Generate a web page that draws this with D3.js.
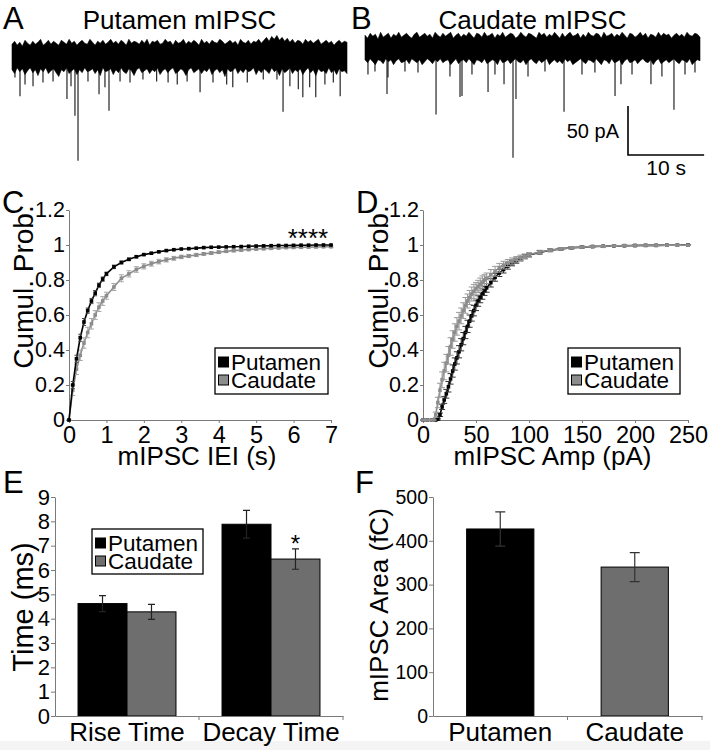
<!DOCTYPE html>
<meta charset="utf-8">
<script src="https://d3js.org/d3.v7.min.js"></script>
<style>
  body { margin: 0; background: #fff; }
  text { font-family: "Liberation Sans", Arial, sans-serif; }
</style>
<div id="fig"></div>
<script>

  // ---- data ----

  // A / B: example traces (s, pA). band edges at even steps, events = downward spikes
  var traceDur = 44;
  var putTop = [11,14,10,13,9,15,12,10,14,11,13,16,10,12,15,11,14,12,10,15,13,11,16,12,14,10,13,15,12,11,
    16,13,10,14,12,15,11,13,16,12,14,11,15,13,10,16,12,14,13,11,15,12,16,10,14,13,15,11,12,16,
    13,14,10,15,12,13,16,11,14,12,15,13,10,16,12,14,11,15,13,12,16,14,11,13,15,12,14,10,16,13,
    12,15,11,14,13,16,12,15,18,14,19,16,20,15,18,14,17,13,16,12,15,14,11,16,13,15,12,14,16,11,
    13,15,12,14,10,13,15,12,14,13];
  var putBottom = [-15,-19,-13,-17,-14,-20,-16,-13,-18,-15,-21,-14,-17,-13,-19,-16,-14,-18,-22,-15,-17,-13,-19,-16,-14,-20,-15,-18,-13,-17,
    -16,-14,-19,-15,-21,-13,-17,-16,-14,-20,-15,-18,-13,-17,-19,-14,-16,-21,-15,-13,-18,-16,-14,-19,-15,-17,-13,-20,-16,-14,
    -18,-15,-13,-19,-17,-14,-16,-21,-15,-13,-18,-16,-14,-19,-15,-17,-13,-20,-16,-14,-18,-15,-22,-14,-17,-16,-13,-19,-15,-18,
    -14,-17,-16,-13,-20,-15,-18,-14,-16,-19,-13,-17,-15,-21,-14,-18,-16,-13,-19,-15,-17,-14,-20,-16,-13,-18,-15,-21,-14,-17,
    -16,-19,-13,-18,-15,-20,-14,-17,-16,-19];
  var putEvT = [0.39,1.05,1.71,2.76,4.07,5.39,7.22,7.75,8.27,8.67,9.98,11.43,12.21,12.74,14.19,15.5,17.2,19.0,20.5,21.7,23.0,24.7,26.4,28.2,29.0,30.9,33.0,34.8,35.6,36.5,37.6,38.2,39.1,39.9,41.1,42.2,43.1];
  var putEvA = [-23,-42,-30,-32,-28,-27,-45,-32,-62,-108,-27,-40,-33,-57,-27,-28,-25,-27,-28,-30,-27,-38,-28,-30,-33,-28,-25,-25,-58,-32,-35,-43,-33,-43,-30,-28,-42];

  var cauTop = [12,9,14,11,13,8,15,10,12,14,9,13,11,15,10,12,14,11,9,13,15,10,12,14,11,13,9,15,12,10,
    14,11,13,15,9,12,14,10,13,11,15,12,9,14,13,10,15,11,12,14,9,13,11,15,10,12,14,13,9,11,
    15,12,10,14,13,11,9,15,12,14,10,13,11,15,12,9,14,10,13,15,11,12,14,9,13,10,15,12,11,14,
    13,9,15,11,12,14,10,13,11,15,12,9,14,13,10,12,15,11,14,9,13,12,10,15,11,14,12,13,9,12,
    14,11,13,10,15,12,11,14,13,10];
  var cauBottom = [-13,-16,-12,-15,-18,-13,-14,-17,-12,-15,-13,-18,-14,-12,-16,-15,-13,-17,-12,-14,-16,-13,-18,-15,-12,-14,-17,-13,-15,-12,
    -16,-14,-13,-18,-15,-12,-17,-14,-13,-16,-12,-15,-18,-13,-14,-16,-12,-17,-15,-13,-14,-18,-12,-16,-15,-13,-17,-14,-12,-15,
    -16,-13,-18,-14,-12,-15,-17,-13,-16,-14,-12,-18,-15,-13,-16,-14,-17,-12,-15,-13,-18,-16,-14,-12,-15,-17,-13,-14,-16,-12,
    -15,-18,-13,-14,-17,-12,-16,-15,-13,-18,-14,-12,-16,-15,-13,-17,-14,-12,-15,-16,-13,-18,-14,-12,-17,-15,-13,-16,-14,-12,
    -15,-17,-13,-14,-16,-12,-18,-15,-13,-14];
  var cauEvT = [0.39,1.31,2.89,3.02,5.25,6.96,9.33,11.16,12.48,12.74,14.05,16.16,17.07,18.26,19.44,19.83,21.41,23.64,26.14,28.5,30.2,32.84,33.62,35.07,37.56,39.0,40.58,42.03,43.34];
  var cauEvA = [-28,-25,-48,-31,-25,-26,-69,-30,-51,-50,-28,-46,-28,-38,-113,-53,-30,-25,-66,-28,-26,-50,-38,-28,-38,-30,-64,-28,-26];

  // C: cumulative probability of inter-event interval (s)
  var ieiX = [0,0.1,0.2,0.3,0.4,0.5,0.6,0.7,0.8,0.9,1.0,1.2,1.4,1.6,1.8,2.0,2.2,2.4,2.6,2.8,3.0,
    3.2,3.4,3.6,3.8,4.0,4.2,4.4,4.6,4.8,5.0,5.2,5.4,5.6,5.8,6.0,6.2,6.4,6.6,6.8,7.0];
  var ieiPut = [0,0.2,0.35,0.47,0.56,0.625,0.68,0.725,0.77,0.805,0.835,0.875,0.9,0.918,0.933,0.945,0.953,0.961,0.968,0.973,0.977,
    0.979,0.982,0.985,0.987,0.988,0.989,0.99,0.991,0.993,0.994,0.995,0.996,0.997,0.997,0.998,0.999,0.999,1.0,1.0,1.0];
  var ieiPutSem = [0,0.02,0.02,0.02,0.02,0.015,0.015,0.015,0.012,0.012,0.01,0.01,0.008,0.007,0.006,0.005,0.005,0.004,0.004,0.004,0.003,
    0.003,0.003,0.003,0.003,0.003,0.003,0.003,0.003,0.003,0.003,0.003,0.003,0.003,0.003,0.003,0.003,0.003,0.003,0.003,0.003];
  var ieiCau = [0,0.17,0.29,0.37,0.44,0.5,0.55,0.6,0.645,0.68,0.71,0.76,0.81,0.835,0.86,0.878,0.893,0.905,0.915,0.924,0.932,
    0.937,0.943,0.949,0.954,0.959,0.964,0.968,0.971,0.974,0.977,0.979,0.981,0.983,0.985,0.986,0.987,0.988,0.989,0.99,0.99];
  var ieiCauSem = [0,0.03,0.03,0.03,0.03,0.03,0.03,0.025,0.025,0.025,0.02,0.02,0.02,0.018,0.016,0.015,0.014,0.013,0.012,0.011,0.01,
    0.009,0.009,0.008,0.008,0.008,0.007,0.007,0.007,0.006,0.006,0.006,0.006,0.005,0.005,0.005,0.005,0.005,0.005,0.005,0.005];

  // D: cumulative probability of amplitude (pA)
  var ampX = [0,4,8,10,12,14,16,18,20,22,24,26,28,30,32,34,36,38,40,42,44,46,48,50,52,54,56,58,60,
    64,68,72,76,80,84,88,92,96,100,110,120,130,140,150,160,170,180,190,200,210,220,230,240,250];
  var ampPut = [0,0,0,0,0,0.005,0.03,0.075,0.115,0.15,0.19,0.235,0.28,0.32,0.355,0.39,0.43,0.465,0.5,0.535,0.565,0.595,0.625,0.655,0.68,0.7,0.72,0.737,0.755,
    0.785,0.815,0.84,0.86,0.88,0.897,0.91,0.922,0.933,0.943,0.958,0.97,0.978,0.984,0.988,0.991,0.993,0.995,0.996,0.997,0.998,0.998,0.999,0.999,1.0];
  var ampPutSem = [0,0,0,0,0,0.005,0.01,0.015,0.02,0.025,0.03,0.03,0.035,0.035,0.035,0.035,0.035,0.035,0.035,0.035,0.035,0.03,0.03,0.03,0.03,0.03,0.03,0.025,0.025,
    0.025,0.022,0.02,0.02,0.018,0.016,0.014,0.013,0.012,0.011,0.01,0.008,0.007,0.006,0.005,0.004,0.004,0.003,0.003,0.003,0.002,0.002,0.002,0.002,0.002];
  var ampCau = [0,0,0,0,0.03,0.1,0.17,0.23,0.28,0.325,0.37,0.42,0.46,0.5,0.535,0.565,0.595,0.625,0.655,0.68,0.7,0.72,0.735,0.75,0.763,0.776,0.788,0.8,0.81,
    0.83,0.85,0.87,0.885,0.897,0.908,0.918,0.927,0.936,0.944,0.96,0.97,0.978,0.984,0.988,0.991,0.993,0.995,0.996,0.997,0.998,0.998,0.999,0.999,0.999];
  var ampCauSem = [0,0,0,0,0.015,0.03,0.04,0.045,0.05,0.05,0.05,0.05,0.05,0.05,0.05,0.05,0.045,0.045,0.045,0.04,0.04,0.04,0.04,0.035,0.035,0.035,0.035,0.03,0.03,
    0.03,0.028,0.025,0.022,0.02,0.018,0.016,0.015,0.013,0.012,0.01,0.008,0.007,0.006,0.005,0.004,0.004,0.003,0.003,0.003,0.002,0.002,0.002,0.002,0.002];

  // E: kinetics (ms)
  var kinGroups = ["Rise Time", "Decay Time"];
  var regions = ["Putamen", "Caudate"];
  var kinPut = [4.62, 7.88];
  var kinPutErr = [0.33, 0.57];
  var kinCau = [4.28, 6.45];
  var kinCauErr = [0.31, 0.42];

  // F: charge (fC)
  var areaMean = [427, 340];
  var areaErr = [39, 33];

  var colPut = "#000", colCau = "#8c8c8c", colBarCau = "#6e6e6e", axisCol = "#7a7a7a";

  var svg = d3.select("#fig").append("svg")
    .attr("width", 710).attr("height", 750);

  svg.append("rect").attr("x", 0).attr("y", 741).attr("width", 710).attr("height", 9).attr("fill", "#f4f4f4");

  function letter(txt, x, y) {
    svg.append("text").attr("x", x).attr("y", y).attr("font-size", 31).text(txt);
  }

  // ---------- A & B traces ----------
  function drawTrace(x0, x1, base, top, bottom, evT, evA, title) {
    var x = d3.scaleLinear().domain([0, traceDur]).range([x0, x1]);
    var y = d3.scaleLinear().domain([0, -50]).range([base, base + 49]);
    var xi = d3.scaleLinear().domain([0, top.length - 1]).range([0, traceDur]);
    var g = svg.append("g");
    g.selectAll(".ev").data(evT).enter().append("line")
      .attr("x1", function(d) { return x(d) }).attr("x2", function(d) { return x(d) })
      .attr("y1", y(-8))
      .attr("y2", function(d, i) { return y(evA[i]) })
      .attr("stroke", "#111").attr("stroke-width", 1.1);
    var area = d3.area()
      .x(function(d, i) { return x(xi(i)) })
      .y0(function(d, i) { return y(bottom[i]) })
      .y1(function(d) { return y(d) });
    g.append("path").datum(top).attr("d", area)
      .attr("fill", "#000").attr("stroke", "#000").attr("stroke-width", 0.6);
    svg.append("text").attr("x", (x0 + x1) / 2).attr("y", 29)
      .attr("text-anchor", "middle").attr("font-size", 26).text(title);
    return {x: x, y: y};
  }
  drawTrace(12, 347, 55, putTop, putBottom, putEvT, putEvA, "Putamen mIPSC");
  var tb = drawTrace(365, 700, 47, cauTop, cauBottom, cauEvT, cauEvA, "Caudate mIPSC");
  letter("A", 3, 29);
  letter("B", 351, 29);

  // scale bar 50 pA / 10 s
  var sbX = 628, sbY = 155;
  var sbW = tb.x(10) - tb.x(0), sbH = tb.y(-50) - tb.y(0);
  svg.append("path")
    .attr("d", "M" + sbX + "," + (sbY - sbH) + "V" + sbY + "H" + (sbX + sbW))
    .attr("fill", "none").attr("stroke", "#000").attr("stroke-width", 1.6);
  svg.append("text").attr("x", sbX - 9).attr("y", 138).attr("text-anchor", "end")
    .attr("font-size", 20).text("50 pA");
  svg.append("text").attr("x", sbX + sbW / 2).attr("y", 175).attr("text-anchor", "middle")
    .attr("font-size", 21).text("10 s");

  // ---------- helpers ----------
  function styleAxis(g, size) {
    g.attr("font-family", null).attr("font-size", size);
    g.select(".domain").attr("stroke", axisCol);
    g.selectAll(".tick line").attr("stroke", axisCol);
    g.selectAll(".tick text").attr("fill", "#000");
  }

  function legend(x, y, w, h, fills) {
    svg.append("rect").attr("x", x).attr("y", y).attr("width", w).attr("height", h)
      .attr("fill", "#fff").attr("stroke", "#000").attr("stroke-width", 1.3);
    regions.forEach(function(r, i) {
      var cy = y + 14 + i * 18;
      svg.append("rect").attr("x", x + 3.5).attr("y", cy - 5).attr("width", 10).attr("height", 10)
        .attr("fill", fills[i]).attr("stroke", "#000").attr("stroke-width", 1);
      svg.append("text").attr("x", x + 16).attr("y", cy + 8).attr("font-size", 22.5).text(r);
    });
  }

  function cumSeries(g, x, y, xs, ys, sem, col, errCol, cap) {
    var line = d3.line().x(function(d, i) { return x(xs[i]) }).y(function(d) { return y(d) });
    g.append("path").datum(ys).attr("d", line).attr("fill", "none")
      .attr("stroke", col).attr("stroke-width", 1.6);
    var pts = g.selectAll(null).data(ys).enter().append("g")
      .attr("transform", function(d, i) { return "translate(" + x(xs[i]) + "," + y(d) + ")" });
    pts.append("path")
      .attr("d", function(d, i) {
        var up = y(d + sem[i]) - y(d), dn = y(d - sem[i]) - y(d);
        return "M0," + up + "V" + dn + "M" + (-cap) + "," + up + "h" + (2 * cap) + "M" + (-cap) + "," + dn + "h" + (2 * cap);
      })
      .attr("stroke", errCol).attr("stroke-width", 1);
    pts.append("rect").attr("x", -1.8).attr("y", -1.8).attr("width", 3.6).attr("height", 3.6)
      .attr("fill", col);
  }

  function cumPanel(x, y, xTicks, xLabel, yLabX, series) {
    var ga = svg.append("g").attr("transform", "translate(0," + y(0) + ")")
      .call(d3.axisBottom(x).tickValues(xTicks).tickFormat(d3.format("d"))
        .tickSize(3).tickSizeOuter(0).tickPadding(3));
    styleAxis(ga, 23.5);
    var gy = svg.append("g").attr("transform", "translate(" + x(0) + ",0)")
      .call(d3.axisLeft(y).tickValues([0, 0.2, 0.4, 0.6, 0.8, 1, 1.2]).tickFormat(d3.format("~g"))
        .tickSize(3).tickSizeOuter(0).tickPadding(1));
    styleAxis(gy, 21.5);
    var g = svg.append("g");
    series.forEach(function(s) { cumSeries(g, x, y, s[0], s[1], s[2], s[3], s[4], s[5]) });
    svg.append("text").attr("x", (x.range()[0] + x.range()[1]) / 2 - 3).attr("y", 465)
      .attr("text-anchor", "middle").attr("font-size", 26).text(xLabel);
    svg.append("text").attr("transform", "translate(" + yLabX + "," + ((y(0) + y(1.2)) / 2 - 28) + ") rotate(-90)")
      .attr("text-anchor", "middle").attr("font-size", 28).text("Cumul. Prob.");
  }

  // ---------- C ----------
  var xC = d3.scaleLinear().domain([0, 7]).range([69, 331]);
  var yC = d3.scaleLinear().domain([0, 1.2]).range([420, 210]);
  cumPanel(xC, yC, [0, 1, 2, 3, 4, 5, 6, 7], "mIPSC IEI (s)", 33, [
    [ieiX, ieiCau, ieiCauSem, colCau, "#a8a8a8", 2.5],
    [ieiX, ieiPut, ieiPutSem, colPut, "#444", 2]
  ]);
  legend(215, 348, 113, 46, [colPut, colCau]);
  svg.append("text").attr("x", 308).attr("y", 247).attr("text-anchor", "middle")
    .attr("font-size", 26).text("****");
  letter("C", 2, 213);

  // ---------- D ----------
  var xD = d3.scaleLinear().domain([0, 250]).range([423, 688]);
  var yD = d3.scaleLinear().domain([0, 1.2]).range([420, 210]);
  cumPanel(xD, yD, [0, 50, 100, 150, 200, 250], "mIPSC Amp (pA)", 388, [
    [ampX, ampPut, ampPutSem, colPut, "#333", 3],
    [ampX, ampCau, ampCauSem, colCau, "#9a9a9a", 3]
  ]);
  legend(568, 348, 112, 46, [colPut, colCau]);
  letter("D", 356, 213);

  // ---------- E ----------
  var x0E = d3.scaleBand().domain(kinGroups).range([55, 343]);
  var x1E = d3.scaleBand().domain(regions).range([0, x0E.bandwidth()]).paddingOuter(0.47);
  var yE = d3.scaleLinear().domain([0, 9]).range([716, 497]);
  var gyE = svg.append("g").attr("transform", "translate(55,0)")
    .call(d3.axisLeft(yE).ticks(9).tickSize(4).tickSizeOuter(0).tickPadding(1));
  styleAxis(gyE, 22);
  var kinData = [];
  kinGroups.forEach(function(k, i) {
    kinData.push({g: k, r: "Putamen", v: kinPut[i], e: kinPutErr[i]});
    kinData.push({g: k, r: "Caudate", v: kinCau[i], e: kinCauErr[i]});
  });
  svg.selectAll(".barE").data(kinData).enter().append("rect")
    .attr("x", function(d) { return x0E(d.g) + x1E(d.r) })
    .attr("y", function(d) { return yE(d.v) })
    .attr("width", x1E.bandwidth())
    .attr("height", function(d) { return yE(0) - yE(d.v) })
    .attr("fill", function(d) { return d.r === "Putamen" ? colPut : colBarCau })
    .attr("stroke", "#000").attr("stroke-width", 1);
  svg.selectAll(".errE").data(kinData).enter().append("path")
    .attr("d", function(d) {
      var cx = x0E(d.g) + x1E(d.r) + x1E.bandwidth() / 2, t = yE(d.v + d.e), b = yE(d.v - d.e);
      return "M" + cx + "," + t + "V" + b + "M" + (cx - 3.5) + "," + t + "h7M" + (cx - 3.5) + "," + b + "h7";
    })
    .attr("stroke", "#222").attr("stroke-width", 1.2).attr("fill", "none");
  var gxE = svg.append("g").attr("transform", "translate(0," + yE(0) + ")")
    .call(d3.axisBottom(x0E).tickSize(0).tickPadding(7));
  styleAxis(gxE, 26);
  gxE.selectAll(".sep").data([x0E("Decay Time"), x0E.range()[1]]).enter().append("line")
    .attr("x1", function(d) { return d }).attr("x2", function(d) { return d })
    .attr("y1", 0).attr("y2", 4).attr("stroke", axisCol);
  svg.append("text").attr("x", x0E("Decay Time") + x1E("Caudate") + x1E.bandwidth() / 2)
    .attr("y", 552).attr("text-anchor", "middle").attr("font-size", 24).text("*");
  svg.append("text").attr("transform", "translate(33,607) rotate(-90)")
    .attr("text-anchor", "middle").attr("font-size", 29).text("Time (ms)");
  legend(92, 529, 111, 45, [colPut, colBarCau]);
  letter("E", 3, 493);

  // ---------- F ----------
  var xF = d3.scaleBand().domain(regions).range([433, 702]).paddingInner(0.5).paddingOuter(0.25);
  var yF = d3.scaleLinear().domain([0, 500]).range([716, 497]);
  var gyF = svg.append("g").attr("transform", "translate(433,0)")
    .call(d3.axisLeft(yF).ticks(5).tickSize(4).tickSizeOuter(0).tickPadding(1));
  styleAxis(gyF, 19.5);
  svg.selectAll(".barF").data(regions).enter().append("rect")
    .attr("x", function(d) { return xF(d) })
    .attr("y", function(d, i) { return yF(areaMean[i]) })
    .attr("width", xF.bandwidth())
    .attr("height", function(d, i) { return yF(0) - yF(areaMean[i]) })
    .attr("fill", function(d, i) { return i === 0 ? colPut : colBarCau })
    .attr("stroke", "#000").attr("stroke-width", 1);
  svg.selectAll(".errF").data(regions).enter().append("path")
    .attr("d", function(d, i) {
      var cx = xF(d) + xF.bandwidth() / 2, t = yF(areaMean[i] + areaErr[i]), b = yF(areaMean[i] - areaErr[i]);
      return "M" + cx + "," + t + "V" + b + "M" + (cx - 5) + "," + t + "h10M" + (cx - 5) + "," + b + "h10";
    })
    .attr("stroke", "#333").attr("stroke-width", 1.2).attr("fill", "none");
  var gxF = svg.append("g").attr("transform", "translate(0," + yF(0) + ")")
    .call(d3.axisBottom(xF).tickSize(0).tickPadding(7));
  styleAxis(gxF, 26);
  gxF.selectAll(".sep").data([(xF("Putamen") + xF.bandwidth() + xF("Caudate")) / 2, xF.range()[1]]).enter().append("line")
    .attr("x1", function(d) { return d }).attr("x2", function(d) { return d })
    .attr("y1", 0).attr("y2", 4).attr("stroke", axisCol);
  svg.append("text").attr("transform", "translate(388,605) rotate(-90)")
    .attr("text-anchor", "middle").attr("font-size", 26).text("mIPSC Area (fC)");
  letter("F", 355, 493);

</script>
